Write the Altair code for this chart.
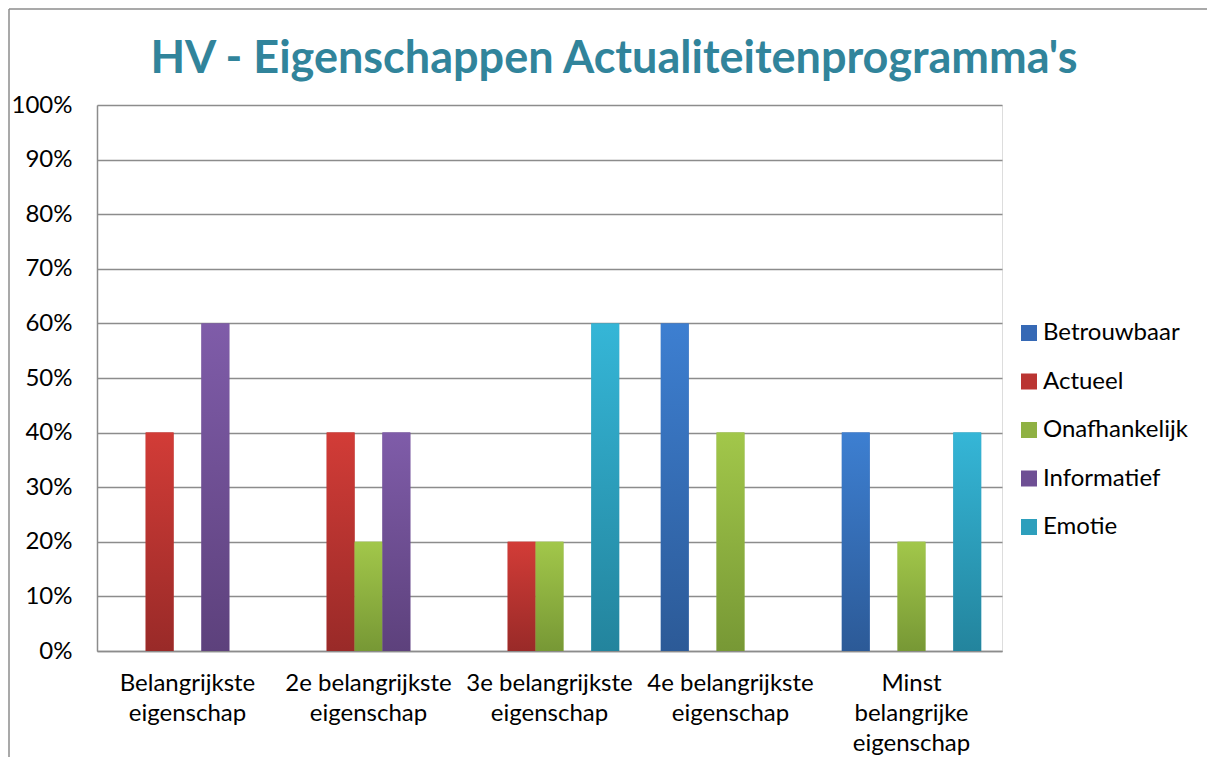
import altair as alt
import pandas as pd

title_text = "HV - Eigenschappen Actualiteitenprogramma's"
categories = [
    "Belangrijkste|eigenschap",
    "2e belangrijkste|eigenschap",
    "3e belangrijkste|eigenschap",
    "4e belangrijkste|eigenschap",
    "Minst|belangrijke|eigenschap",
]
series = ["Betrouwbaar", "Actueel", "Onafhankelijk", "Informatief", "Emotie"]
betrouwbaar = [0.0, 0.0, 0.0, 0.6, 0.4]
actueel = [0.4, 0.4, 0.2, 0.0, 0.0]
onafhankelijk = [0.0, 0.2, 0.2, 0.4, 0.2]
informatief = [0.6, 0.4, 0.0, 0.0, 0.0]
emotie = [0.0, 0.0, 0.6, 0.0, 0.4]
y_ticks = [0, 0.1, 0.2, 0.3, 0.4, 0.5, 0.6, 0.7, 0.8, 0.9, 1.0]

mid_colors = ["#3669b5", "#ba3532", "#8fb143", "#6e4f94", "#2d9fbc"]
top_colors = ["#3d7fd1", "#d23c37", "#a2c74a", "#7f5ca9", "#35b6d7"]
bottom_colors = ["#2c5a97", "#992a28", "#779835", "#5d417c", "#23849d"]

values = [betrouwbaar, actueel, onafhankelijk, informatief, emotie]
rows = []
for s, vals in zip(series, values):
    for c, v in zip(categories, vals):
        rows.append({"categorie": c, "reeks": s, "waarde": v})
df = pd.DataFrame(rows)

FONT = "Lato"

x_enc = alt.X(
    "categorie:N",
    sort=categories,
    scale=alt.Scale(domain=categories, paddingInner=0.23, paddingOuter=0.115),
    axis=alt.Axis(
        title=None,
        labelAngle=0,
        labelExpr="split(datum.label, '|')",
        labelFontSize=24,
        labelFont=FONT,
        labelColor="#000000",
        labelPadding=20,
        labelLineHeight=30,
        ticks=False,
        domainColor="#8c8c8c",
        domainWidth=1.5,
        labelBaseline="top",
    ),
)
xoff_enc = alt.XOffset(
    "reeks:N", sort=series, scale=alt.Scale(domain=series, paddingInner=0, paddingOuter=0)
)
y_enc = alt.Y(
    "waarde:Q",
    scale=alt.Scale(domain=[0, 1], nice=False),
    axis=alt.Axis(
        title=None,
        format=".0%",
        values=y_ticks,
        labelFontSize=24,
        labelFont=FONT,
        labelColor="#000000",
        labelPadding=25,
        ticks=False,
        grid=True,
        gridColor="#8c8c8c",
        gridWidth=1.5,
        domainColor="#8c8c8c",
        domainWidth=1.5,
    ),
)

base = alt.Chart(df)

legend_layer = base.mark_bar().encode(
    x=x_enc,
    xOffset=xoff_enc,
    y=y_enc,
    color=alt.Color(
        "reeks:N",
        sort=series,
        scale=alt.Scale(domain=series, range=mid_colors),
        legend=alt.Legend(
            title=None,
            orient="none",
            legendX=920,
            legendY=216,
            symbolType="square",
            symbolSize=256,
            symbolStrokeWidth=0,
            labelFontSize=24,
            labelFont=FONT,
            labelColor="#000000",
            labelOffset=2,
            rowPadding=24.5,
            padding=0,
        ),
    ),
)

layers = [legend_layer]
for s, tc, bc in zip(series, top_colors, bottom_colors):
    grad = alt.Gradient(
        gradient="linear",
        stops=[alt.GradientStop(color=tc, offset=0), alt.GradientStop(color=bc, offset=1)],
        x1=0, x2=0, y1=0, y2=1,
    )
    layers.append(
        base.transform_filter(alt.datum.reeks == s)
        .mark_bar(color=grad)
        .encode(x=x_enc, xOffset=xoff_enc, y=y_enc)
    )

one = pd.DataFrame({"t": [title_text]})
frame_top = alt.Chart(one).mark_rule(color="#8c8c8c", strokeWidth=1.5, clip=False).encode(
    x=alt.value(-88), x2=alt.value(1130), y=alt.value(-96)
)
frame_left = alt.Chart(one).mark_rule(color="#8c8c8c", strokeWidth=1.5, clip=False).encode(
    x=alt.value(-88), y=alt.value(-96), y2=alt.value(720)
)
title_mark = alt.Chart(one).mark_text(
    font=FONT, fontSize=45, fontWeight="bold", color="#31849b",
    align="center", baseline="alphabetic", clip=False,
).encode(x=alt.value(517), y=alt.value(-32), text="t:N")
layers += [frame_top, frame_left, title_mark]

chart = alt.layer(*layers).properties(
    width=905,
    height=546,
    autosize=alt.AutoSizeParams(type="none"),
    padding={"left": 89, "top": 97, "right": 205, "bottom": 106},
).configure_view(stroke=None).configure(background="white")

chart.save("out.html", embed_options={"renderer": "svg", "actions": False})
